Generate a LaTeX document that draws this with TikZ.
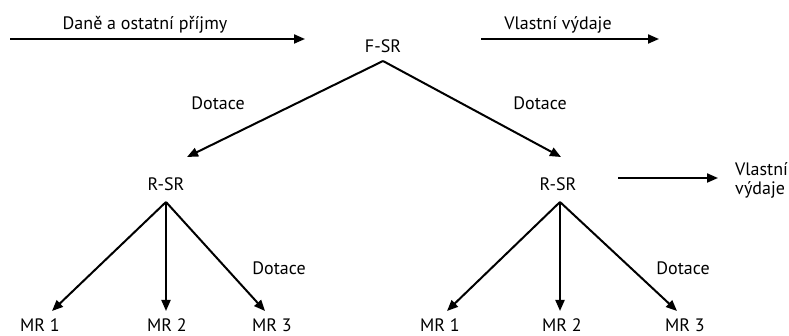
\documentclass[tikz,border=0pt]{standalone}
\usepackage{fontspec}
\setmainfont{PT Sans}
\usetikzlibrary{arrows.meta}
\begin{document}
\begin{tikzpicture}[x=1pt,y=-1pt,
  lbl/.style={inner sep=0pt,font=\fontsize{18}{20}\selectfont},
  arr/.style={line width=2pt,-{Triangle[length=11pt,width=9pt]}}]
\useasboundingbox (0,0) rectangle (789,336);
% top row
\coordinate (a0) at (10,39);
\coordinate (a1) at (305,39);
\draw[arr] (a0) -- (a1);
\node[lbl] (tin) at (145,25) {Daně a ostatní příjmy};
\node[lbl] (fsr) at (383,46) {F-SR};
\coordinate (b0) at (481,39);
\coordinate (b1) at (659,39);
\draw[arr] (b0) -- (b1);
\node[lbl] (tout) at (558,25) {Vlastní výdaje};
% second level
\coordinate (top) at (383,61);
\coordinate (lt) at (187,157);
\coordinate (rt) at (561,157);
\draw[arr] (top) -- (lt);
\draw[arr] (top) -- (rt);
\node[lbl] (d1) at (218,103) {Dotace};
\node[lbl] (d2) at (540,103) {Dotace};
\node[lbl] (rl) at (166,184) {R-SR};
\node[lbl] (rr) at (558,184) {R-SR};
\coordinate (c0) at (618,178);
\coordinate (c1) at (718,178);
\draw[arr] (c0) -- (c1);
\node[lbl,align=left,anchor=west] (vv) at (735,180) {Vlastní\\[-1pt]výdaje};
% left subtree
\coordinate (la) at (166,202);
\coordinate (l1) at (52,311);
\coordinate (l2) at (166,311);
\coordinate (l3) at (265,311);
\draw[arr] (la) -- (l1);
\draw[arr] (la) -- (l2);
\draw[arr] (la) -- (l3);
\node[lbl] (d3) at (279,268) {Dotace};
\node[lbl] (m1) at (40,325) {MR 1};
\node[lbl] (m2) at (167,325) {MR 2};
\node[lbl] (m3) at (272,325) {MR 3};
% right subtree
\coordinate (ra) at (560,202);
\coordinate (r1) at (447,311);
\coordinate (r2) at (560,311);
\coordinate (r3) at (677,311);
\draw[arr] (ra) -- (r1);
\draw[arr] (ra) -- (r2);
\draw[arr] (ra) -- (r3);
\node[lbl] (d4) at (683,268) {Dotace};
\node[lbl] (n1) at (440,325) {MR 1};
\node[lbl] (n2) at (562,325) {MR 2};
\node[lbl] (n3) at (685,325) {MR 3};
\end{tikzpicture}
\end{document}
